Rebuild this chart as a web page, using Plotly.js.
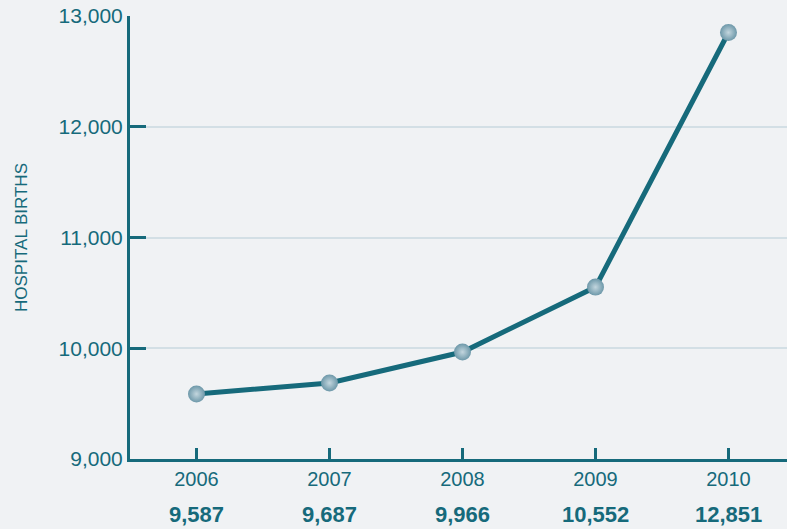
<!DOCTYPE html>
<html><head><meta charset="utf-8">
<script src="https://cdn.plot.ly/plotly-3.0.1.min.js"></script>
<style>html,body{margin:0;padding:0;background:#f0f2f4;}#chart{width:787px;height:529px;}</style>
</head><body><div id="chart"></div>
<script>
const years = [2006, 2007, 2008, 2009, 2010];
const births = [9587, 9687, 9966, 10552, 12851];
const yTicks = [9000, 10000, 11000, 12000, 13000];
const yTickLabels = ['9,000', '10,000', '11,000', '12,000', '13,000'];
const valueLabels = ['9,587', '9,687', '9,966', '10,552', '12,851'];

const teal = '#166a7b';
const font = 'Liberation Sans Narrow, Arial Narrow, sans-serif';

const trace = {
  x: years, y: births, type: 'scatter', mode: 'lines+markers',
  line: {color: teal, width: 5},
  marker: {size: 17, color: '#6d98a9', gradient: {type: 'radial', color: '#c3d6de'}, line: {width: 0}},
  hoverinfo: 'skip'
};

const annotations = years.map((yr, i) => ({
  x: yr, xref: 'x', y: -0.125, yref: 'paper', yanchor: 'middle', xanchor: 'center',
  text: '<b>' + valueLabels[i] + '</b>', showarrow: false,
  font: {family: font, size: 22, color: teal}
}));

const layout = {
  width: 787, height: 529,
  margin: {l: 130, r: 0, t: 16, b: 70},
  paper_bgcolor: '#f0f2f4', plot_bgcolor: '#f0f2f4',
  showlegend: false,
  xaxis: {
    range: [2005.5, 2010.44], tickvals: years, ticktext: years.map(String),
    ticks: 'inside', ticklen: 11, tickwidth: 3, tickcolor: teal,
    showline: true, linecolor: teal, linewidth: 3, showgrid: false, zeroline: false,
    tickfont: {family: font, size: 20, color: teal}
  },
  yaxis: {
    range: [9000, 13000], tickvals: yTicks, ticktext: yTickLabels,
    ticks: 'inside', ticklen: 16, tickwidth: 3, tickcolor: teal,
    showline: true, linecolor: teal, linewidth: 3,
    showgrid: true, gridcolor: '#d3dfe5', gridwidth: 2, zeroline: false,
    tickfont: {family: font, size: 21, color: teal},
    title: {text: 'HOSPITAL BIRTHS', font: {family: font, size: 17, color: teal}, standoff: 27}
  },
  annotations: annotations
};

Plotly.newPlot('chart', [trace], layout, {displayModeBar: false, staticPlot: true});
</script></body></html>
